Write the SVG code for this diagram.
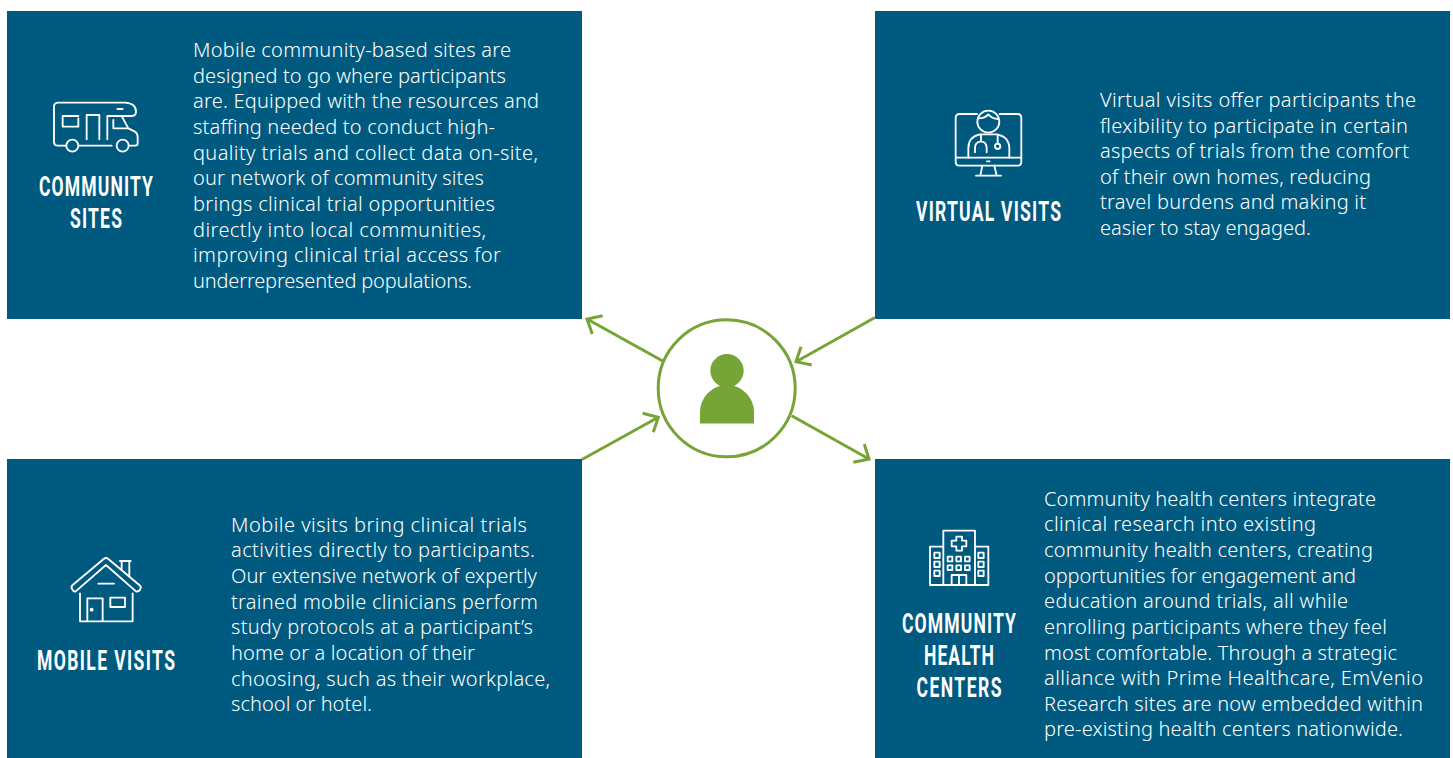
<svg xmlns="http://www.w3.org/2000/svg" width="1453" height="758" viewBox="0 0 1453 758">
<style>
.box{fill:#005a80}
.b{font-family:"Noto Sans","Open Sans",sans-serif;font-size:20px;font-weight:300;fill:#fff}
.t{font-family:"Roboto",sans-serif;font-weight:700;font-size:27px;fill:#fff;text-anchor:middle}
.i{fill:none;stroke:#fff;stroke-width:5.5;stroke-linecap:round;stroke-linejoin:round}
.c{fill:none;stroke:#76a436;stroke-width:3}
</style>
<rect width="1453" height="758" fill="#fff"/>
<g id="community-sites">
<rect class="box" x="7" y="11" width="575" height="308"/>
<g class="i" transform="translate(30 85) scale(.3333)">
<circle cx="127" cy="182" r="18"/><circle cx="278" cy="182" r="18"/>
<path d="M108 182H85Q72 182 72 170V65Q72 53 85 53H285Q318 55 318 80Q318 92 305 93H275L295 130L315 140Q323 145 323 155V175Q323 182 315 182H297M146 182H245M145 93H98V125H145V100M170 163V90H208V163M232 163V93H272M250 105V130H295M262 72H278"/>
</g>
<text class="t" transform="translate(96 196) scale(.65 1)" textLength="175.4">COMMUNITY</text>
<text class="t" transform="translate(96 228) scale(.65 1)" textLength="80">SITES</text>
<text class="b" x="193" y="57" textLength="318">Mobile community-based sites are</text>
<text class="b" x="193" y="83" textLength="313">designed to go where participants</text>
<text class="b" x="193" y="108" textLength="346">are. Equipped with the resources and</text>
<text class="b" x="193" y="134" textLength="302">staffing needed to conduct high-</text>
<text class="b" x="193" y="160" textLength="345">quality trials and collect data on-site,</text>
<text class="b" x="193" y="185" textLength="291">our network of community sites</text>
<text class="b" x="193" y="211" textLength="302">brings clinical trial opportunities</text>
<text class="b" x="193" y="237" textLength="293">directly into local communities,</text>
<text class="b" x="193" y="262" textLength="308">improving clinical trial access for</text>
<text class="b" x="193" y="288" textLength="279">underrepresented populations.</text>
</g>
<g id="virtual-visits">
<rect class="box" x="875" y="11" width="575" height="308"/>
<g class="i" transform="translate(905 95) scale(.3333)">
<path d="M216 57H164Q152 57 152 69V200Q152 212 164 212H337Q349 212 349 200V69Q349 57 337 57H284M152 188H349"/>
<circle cx="250" cy="80" r="33"/>
<path d="M220 70Q240 70 250 58Q260 72 280 72M190 188V160Q190 125 225 118H275Q313 125 313 160V188M228 120V140M210 172V160Q210 140 228 140Q245 140 245 160V172M278 118V146M232 212L226 242M268 212L275 242M213 242H288M246 199H254"/>
<circle cx="278" cy="154" r="8"/>
</g>
<text class="t" transform="translate(988.5 221) scale(.65 1)" textLength="223">VIRTUAL VISITS</text>
<text class="b" x="1100" y="107" textLength="316">Virtual visits offer participants the</text>
<text class="b" x="1100" y="133" textLength="308">flexibility to participate in certain</text>
<text class="b" x="1100" y="158" textLength="309">aspects of trials from the comfort</text>
<text class="b" x="1100" y="184" textLength="271">of their own homes, reducing</text>
<text class="b" x="1100" y="209" textLength="266">travel burdens and making it</text>
<text class="b" x="1100" y="235" textLength="211">easier to stay engaged.</text>
</g>
<g id="mobile-visits">
<rect class="box" x="7" y="459" width="575" height="299"/>
<g class="i" transform="translate(30 545) scale(.3333)">
<path d="M137 139L228 60L318 139Q328 142 332 130Q334 124 328 120L235 42Q228 36 221 42L128 120Q122 126 126 132Q130 141 137 139ZM270 48H302M275 48V75M298 48V95M150 145V229H308V145M172 229V160H218V229M205 116H252"/>
<circle cx="185" cy="194" r="3"/><rect x="241" y="158" width="44" height="28"/>
</g>
<text class="t" transform="translate(106 670) scale(.65 1)" textLength="212.3">MOBILE VISITS</text>
<text class="b" x="231" y="532" textLength="296">Mobile visits bring clinical trials</text>
<text class="b" x="231" y="557" textLength="304">activities directly to participants.</text>
<text class="b" x="231" y="583" textLength="306">Our extensive network of expertly</text>
<text class="b" x="231" y="609" textLength="307">trained mobile clinicians perform</text>
<text class="b" x="231" y="634" textLength="302">study protocols at a participant’s</text>
<text class="b" x="231" y="660" textLength="244">home or a location of their</text>
<text class="b" x="231" y="686" textLength="319">choosing, such as their workplace,</text>
<text class="b" x="231" y="711" textLength="141">school or hotel.</text>
</g>
<g id="community-health-centers">
<rect class="box" x="875" y="459" width="575" height="299"/>
<g class="i" transform="translate(895 520) scale(.3333)">
<path d="M145 195V32H240V195ZM145 80H105V195H145M240 80H280V195H240M170 195V165H214V195M192 165V195M184 50H201V62H214V79H201V92H184V79H170V62H184Z"/>
<path d="M118 98h16v16h-16zM118 125h16v16h-16zM118 152h16v16h-16zM250 98h16v16h-16zM250 125h16v16h-16zM250 152h16v16h-16zM158 110h14v14h-14zM184 110h14v14h-14zM210 110h14v14h-14zM158 136h14v14h-14zM184 136h14v14h-14zM210 136h14v14h-14z"/>
</g>
<text class="t" transform="translate(959 633) scale(.65 1)" textLength="175.4">COMMUNITY</text>
<text class="t" transform="translate(959 665) scale(.65 1)" textLength="107.7">HEALTH</text>
<text class="t" transform="translate(959 697) scale(.65 1)" textLength="130.8">CENTERS</text>
<text class="b" x="1044" y="506" textLength="332">Community health centers integrate</text>
<text class="b" x="1044" y="531" textLength="272">clinical research into existing</text>
<text class="b" x="1044" y="557" textLength="329">community health centers, creating</text>
<text class="b" x="1044" y="583" textLength="312">opportunities for engagement and</text>
<text class="b" x="1044" y="608" textLength="304">education around trials, all while</text>
<text class="b" x="1044" y="634" textLength="343">enrolling participants where they feel</text>
<text class="b" x="1044" y="660" textLength="353">most comfortable. Through a strategic</text>
<text class="b" x="1044" y="685" textLength="379">alliance with Prime Healthcare, EmVenio</text>
<text class="b" x="1044" y="711" textLength="379">Research sites are now embedded within</text>
<text class="b" x="1044" y="736" textLength="359">pre-existing health centers nationwide.</text>
</g>
<g id="participant">
<circle class="c" cx="726.7" cy="388.3" r="68.5"/>
<circle cx="727" cy="370.7" r="16.7" fill="#76a436"/>
<path d="M700 423.5V412A27 27 0 0 1 754 412V423.5Z" fill="#76a436"/>
</g>
<g id="connectors" class="c">
<path d="M662.7 361L587 319M602.7 315.7L587 319L592.3 334"/>
<path d="M875 317.5L796 361.7M801 346.7L796 361.7L811.7 365"/>
<path d="M582 459.5L658.3 417.3M642.7 413.3L658.3 417.3L653.3 432.3"/>
<path d="M791.7 415.7L869 459M864.3 444L869 459L853.3 462.3"/>
</g>
</svg>
